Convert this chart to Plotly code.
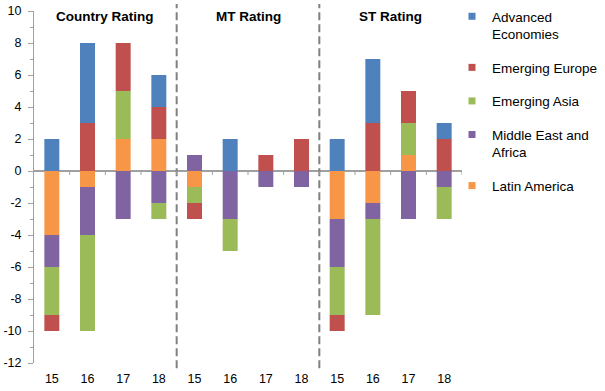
import plotly.graph_objects as go

groups = ["Country Rating", "MT Rating", "ST Rating"]
years = ["15", "16", "17", "18"]
y_ticks = [10, 8, 6, 4, 2, 0, -2, -4, -6, -8, -10, -12]
y_ticktext = ["10", "8", "6", "4", "2", "0", "-2", "-4", "-6", "-8", "-10", "-12"]

# series values, 12 categories: Country 15-18, MT 15-18, ST 15-18
latin_america = [-4, -1, 2, 2, -1, 0, 0, 0, -3, -2, 1, 0]
middle_east_africa = [-2, -3, -3, -2, 1, -3, -1, -1, -3, -1, -3, -1]
emerging_asia = [-3, -6, 3, -1, -1, -2, 0, 0, -3, -6, 2, -2]
emerging_europe = [-1, 3, 3, 2, -1, 0, 1, 2, -1, 3, 2, 2]
advanced_economies = [2, 5, 0, 2, 0, 2, 0, 0, 2, 4, 0, 1]

# stacking order (first = closest to zero)
series = [
    ("Latin America", latin_america, "#F79646"),
    ("Middle East and<br>Africa", middle_east_africa, "#8064A2"),
    ("Emerging Asia", emerging_asia, "#9BBB59"),
    ("Emerging Europe", emerging_europe, "#C0504D"),
    ("Advanced<br>Economies", advanced_economies, "#4F81BD"),
]

FONT = "Liberation Sans, Arial"
n = len(groups) * len(years)
xs = list(range(n))
ticktext = years * len(groups)

fig = go.Figure()
for name, vals, col in series:
    fig.add_trace(go.Bar(x=xs, y=vals, name=name, marker=dict(color=col, line=dict(width=0)),
                         showlegend=False, width=0.42))
# legend entries, top to bottom
for k, (name, vals, col) in enumerate(reversed(series)):
    fig.add_trace(go.Scatter(x=[None], y=[None], mode="markers", name=name, legendgroup="g%d" % k,
                             marker=dict(symbol="square", size=7, color=col)))

shapes = []
# dashed separators between groups
for g in range(1, len(groups)):
    xv = g * len(years) - 0.5
    shapes.append(dict(type="line", xref="x", yref="paper", x0=xv, x1=xv, y0=-0.015, y1=1.02,
                       line=dict(color="#808080", width=2, dash="8px,4px")))
# small category ticks along zero line
for i in range(n):
    xv = i + 0.5
    shapes.append(dict(type="line", xref="x", yref="y", ysizemode="pixel", yanchor=0,
                       x0=xv, x1=xv, y0=0, y1=-4, line=dict(color="#A0A0A0", width=1)))

annotations = []
for g, name in enumerate(groups):
    annotations.append(dict(x=g * len(years) + 1.5, y=1.0, xref="x", yref="paper",
                            text="<b>%s</b>" % name, showarrow=False, yanchor="top", yshift=4,
                            font=dict(family=FONT, size=13.5, color="#000")))

fig.update_layout(
    width=605, height=391,
    margin=dict(l=34, r=143, t=11, b=28, autoexpand=False),
    paper_bgcolor="white", plot_bgcolor="white",
    barmode="relative",
    font=dict(family=FONT, size=12, color="#000"),
    shapes=shapes, annotations=annotations,
    legend=dict(xref="container", yref="container", x=452 / 605, y=1 - 1 / 391,
                xanchor="left", yanchor="top", traceorder="grouped", maxheight=380,
                tracegroupgap=13, valign="top", font=dict(family=FONT, size=13.5, color="#000"),
                bgcolor="rgba(0,0,0,0)", itemwidth=30),
    xaxis=dict(range=[-0.5, n - 0.5], tickmode="array", tickvals=xs, ticktext=ticktext,
               showgrid=False, showline=False, ticks="", zeroline=False, automargin=False,
               ticklabelstandoff=6,
               tickfont=dict(size=12.5, color="#000")),
    yaxis=dict(range=[-12, 10], tickmode="array", tickvals=y_ticks, ticktext=y_ticktext,
               showgrid=False, showline=True, linecolor="#A0A0A0",
               linewidth=1, ticks="outside", ticklen=5, tickcolor="#A0A0A0", automargin=False,
               ticklabelstandoff=4,
               minor=dict(dtick=1, ticks="outside", ticklen=3, tickcolor="#A0A0A0"),
               zeroline=True, zerolinecolor="#A0A0A0", zerolinewidth=2,
               tickfont=dict(size=12.5, color="#000")),
)

fig.write_html("out.html", config={"displayModeBar": False},
               post_script="document.body.style.margin='0';")
